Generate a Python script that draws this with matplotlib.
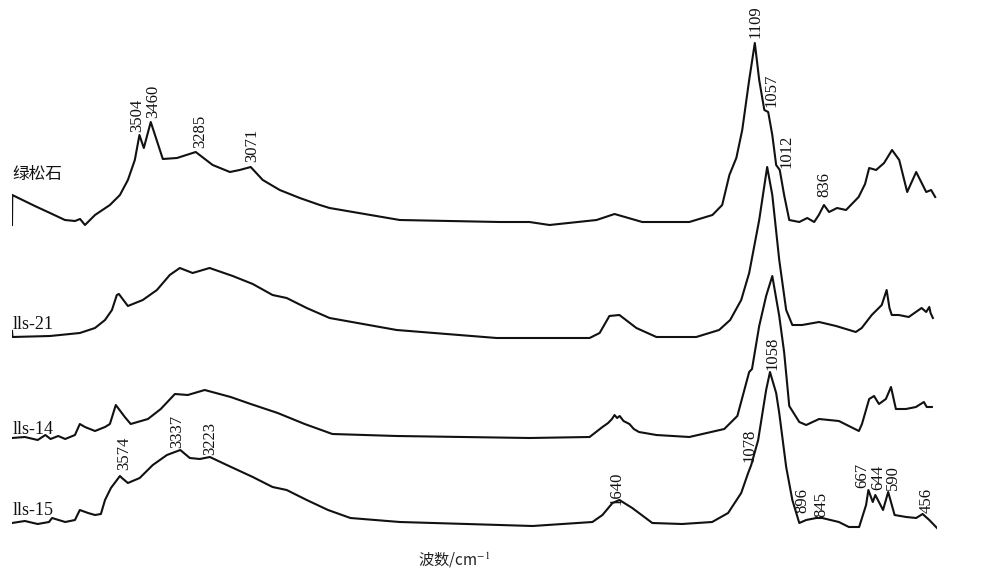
import matplotlib
matplotlib.use("Agg")
import matplotlib.pyplot as plt

# Wavenumbers (cm-1) and relative absorbance
wn_tq = [4000, 3999, 3911, 3852, 3794, 3755, 3735, 3716, 3677, 3619, 3580, 3549,
         3522, 3504, 3487, 3460, 3413, 3358, 3285, 3219, 3152, 3114, 3071, 3024,
         2958, 2880, 2802, 2764, 2491, 2103, 1986, 1908, 1725, 1655, 1547, 1364,
         1274, 1236, 1208, 1181, 1158, 1131, 1109, 1092, 1072, 1057, 1041, 1026,
         1012, 995, 975, 936, 905, 878, 860, 840, 820, 789, 754, 705, 680, 664,
         637, 606, 575, 547, 516, 481, 442, 423, 407]
ab_tq = [-3, 27, 16, 9, 2, 1, 3, -3, 7, 17, 27, 42,
         62, 87, 74, 100, 63, 64, 70, 57, 50, 52, 55, 42,
         32, 24, 17, 14, 2, 0, 0, -3, 2, 8, 0, 0,
         7, 17, 47, 64, 92, 142, 179, 142, 112, 110, 87, 57,
         52, 27, 2, 0, 4, 0, 7, 17, 10, 14, 12, 25, 38, 54,
         52, 59, 72, 62, 30, 50, 30, 32, 25]

wn_21 = [4000, 3998, 3852, 3736, 3677, 3638, 3611, 3592, 3584, 3549, 3491, 3436,
         3386, 3347, 3297, 3231, 3141, 3063, 2986, 2931, 2853, 2764, 2503, 2114,
         1752, 1713, 1675, 1636, 1570, 1492, 1337, 1248, 1205, 1162, 1131, 1092,
         1061, 1041, 1014, 987, 963, 925, 859, 793, 716, 693, 654, 615, 596, 585,
         576, 549, 510, 460, 442, 430, 425, 416]
ab_21 = [6, 0, 1, 4, 9, 17, 27, 42, 43, 31, 37, 47,
         62, 69, 64, 69, 61, 53, 42, 39, 29, 19, 7, -1,
         -1, 4, 21, 22, 9, 0, 0, 7, 17, 37, 64, 117,
         170, 142, 77, 27, 12, 12, 15, 11, 5, 9, 22, 32, 47, 29,
         22, 22, 20, 29, 25, 30, 24, 19]

wn_14 = [4000, 3950, 3900, 3870, 3850, 3820, 3793, 3755, 3736, 3716, 3677, 3638,
         3619, 3596, 3561, 3538, 3471, 3421, 3366, 3316, 3250, 3149, 3071, 2966,
         2861, 2753, 2503, 1986, 1752, 1702, 1680, 1665, 1655, 1645, 1635, 1620,
         1597, 1580, 1560, 1492, 1364, 1228, 1177, 1131, 1120, 1092, 1065, 1041,
         1014, 995, 975, 936, 909, 859, 782, 704, 692, 664, 645, 626, 599, 579,
         560, 521, 482, 451, 440, 420]
ab_14 = [0, 1, -2, 3, -1, 2, -1, 3, 14, 11, 7, 11,
         14, 33, 21, 14, 19, 29, 44, 43, 48, 41, 34, 25,
         14, 4, 2, 0, 1, 11, 15, 19, 23, 20, 22, 17,
         14, 9, 6, 3, 1, 9, 22, 66, 69, 112, 142, 162,
         122, 86, 32, 16, 13, 19, 17, 7, 14, 39, 42, 34, 39, 51,
         29, 29, 31, 36, 31, 31]

wn_15 = [4000, 3950, 3900, 3856, 3844, 3793, 3755, 3736, 3704, 3677, 3654, 3638,
         3615, 3580, 3572, 3549, 3503, 3452, 3397, 3345, 3308, 3269, 3230, 3164,
         3063, 2986, 2931, 2853, 2770, 2683, 2491, 2230, 1974, 1741, 1702, 1663,
         1636, 1586, 1508, 1392, 1275, 1213, 1162, 1135, 1123, 1096, 1065, 1050,
         1026, 1014, 987, 963, 936, 909, 870, 847, 782, 743, 703, 676, 667, 650,
         640, 610, 590, 565, 520, 481, 456, 430, 400]
ab_15 = [1, 3, 0, 2, 6, 2, 4, 14, 11, 9, 10, 24,
         36, 48, 46, 41, 46, 59, 69, 74, 66, 65, 67, 59,
         47, 37, 34, 24, 14, 6, 2, 0, -2, 2, 9, 21,
         24, 16, 1, 0, 2, 11, 31, 51, 59, 84, 134, 152,
         131, 111, 57, 24, 1, 4, 6, 6, 2, -3, -3, 19, 34, 22,
         29, 14, 32, 9, 7, 6, 10, 4, -4]

names = ["绿松石", "lls-21", "lls-14", "lls-15"]
peak_text = ["3504", "3460", "3285", "3071", "1109", "1057", "1012", "836",
             "3574", "3337", "3223", "1640", "1078", "1058", "896", "845",
             "667", "644", "590", "456"]
peak_wn = [3514, 3452, 3269, 3067, 1107, 1045, 987, 839,
           3565, 3358, 3230, 1648, 1131, 1041, 925, 851,
           692, 628, 570, 439]
peak_y = [441, 455, 425, 411, 535, 466, 405, 376,
          103, 125, 118, 68, 111, 203, 60, 56,
          85, 83, 83, 60]

# vertical offsets of the stacked spectra
offsets = [351, 236, 135, 49]
name_y = [390, 244, 139, 58]

plt.rcParams["mathtext.fontset"] = "stix"
fig = plt.figure(figsize=(9.9, 5.73), dpi=100)
ax = fig.add_axes([12 / 990, 0, 925 / 990, 1])
ax.set_xlim(4000, 400)
ax.set_ylim(0, 573)
ax.axis("off")

spectra = [(wn_tq, ab_tq), (wn_21, ab_21), (wn_14, ab_14), (wn_15, ab_15)]
for (wn, ab), off in zip(spectra, offsets):
    ax.plot(wn, [a + off for a in ab], color="#111111", lw=1.5,
            solid_joinstyle="round")

for i, name in enumerate(names):
    if i == 0:
        ax.text(3998, name_y[i], name, family="Noto Sans CJK SC", fontsize=12,
                fontweight="medium", ha="left", va="bottom", color="#111111")
    else:
        ax.text(3997, name_y[i], name, family="Liberation Serif", fontsize=13,
                ha="left", va="baseline", color="#111111")

for t, x, y in zip(peak_text, peak_wn, peak_y):
    ax.text(x, y, t, rotation=90, family="Liberation Serif", fontsize=12,
            ha="center", va="bottom", color="#111111")

fig.text(418 / 990, 1 - 560 / 573, "波数/cm$^{-1}$", family="Noto Sans CJK SC",
         fontsize=11, ha="left", va="center", color="#222222")

fig.savefig("out.png", dpi=100, facecolor="white")
